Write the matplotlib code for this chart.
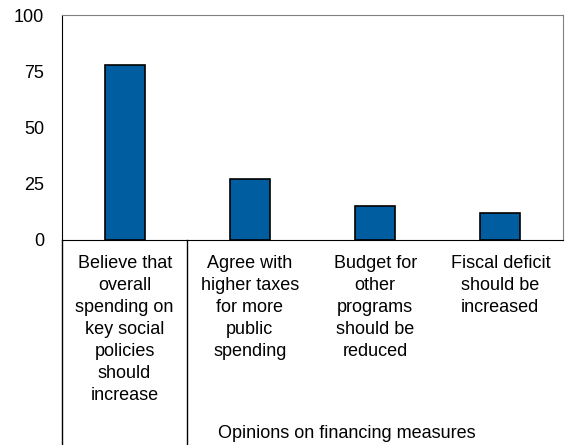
import matplotlib.pyplot as plt
import matplotlib.transforms as mtransforms

plt.rcParams['font.family'] = ['Liberation Sans', 'DejaVu Sans']

categories = ['Believe that\noverall\nspending on\nkey social\npolicies\nshould\nincrease',
              'Agree with\nhigher taxes\nfor more\npublic\nspending',
              'Budget for\nother\nprograms\nshould be\nreduced',
              'Fiscal deficit\nshould be\nincreased']
values = [78, 27, 15, 12]
group_label = 'Opinions on financing measures'
y_ticks = [0, 25, 50, 75, 100]

fig = plt.figure(figsize=(5.65, 4.45), dpi=100)
ax = fig.add_axes([62 / 565, 1 - 240 / 445, 501 / 565, 225 / 445])

x = list(range(len(values)))
ax.bar(x, values, width=0.32, color='#005DA0', edgecolor='black', linewidth=1.2, zorder=3)

ax.set_xlim(-0.5, len(values) - 0.5)
ax.set_ylim(0, 100)
ax.set_yticks(y_ticks)
ax.set_xticks([])
ax.tick_params(axis='y', length=0, pad=13, labelsize=13)

ax.spines['top'].set_color('#808080')
ax.spines['right'].set_color('#808080')
ax.spines['left'].set_color('black')
ax.spines['bottom'].set_color('black')

trans = mtransforms.blended_transform_factory(ax.transData, ax.transAxes)

# category labels below the axis
for xi, lab in zip(x, categories):
    ax.text(xi, -0.065, lab, transform=trans, ha='center', va='top',
            fontsize=13, linespacing=1.39)

# separator lines reaching to the bottom of the figure
for xs in [-0.5, 0.5]:
    ax.plot([xs, xs], [0, -0.92], transform=trans, color='black',
            linewidth=1, clip_on=False)

ax.text(1.77, -0.86, group_label, transform=trans, ha='center', va='center',
        fontsize=13)

fig.savefig('out.png', dpi=100)
